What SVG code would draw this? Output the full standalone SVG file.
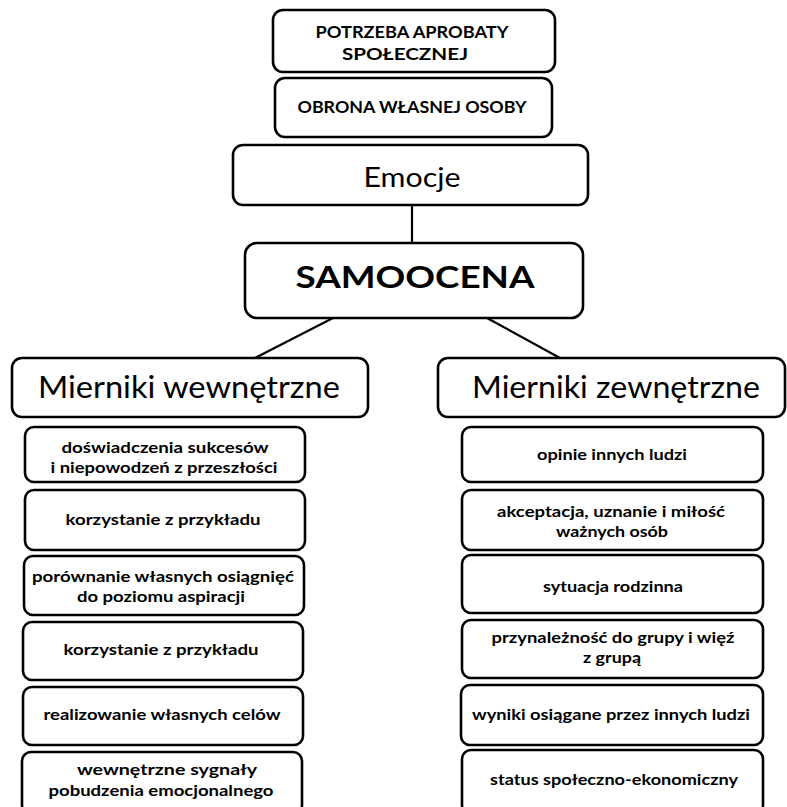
<svg xmlns="http://www.w3.org/2000/svg" width="787" height="807" viewBox="0 0 787 807">
<style>
.box{fill:#fff;stroke:#000;stroke-width:2.6}
.t{font-family:Lato,"Open Sans","Liberation Sans",sans-serif;fill:#000;text-anchor:middle}
.cap{font-size:17px;font-weight:bold}
.sm{font-size:16px;font-weight:bold}
.sm2{font-size:15px;font-weight:bold}
.big{font-size:30px}
.conn{stroke:#000;stroke-width:2.2;fill:none}
</style>
<rect width="787" height="807" fill="#fff"/>
<g id="connectors">
<line class="conn" x1="412" y1="205" x2="412" y2="243"/>
<line class="conn" x1="333" y1="318" x2="255" y2="358"/>
<line class="conn" x1="487" y1="318" x2="560" y2="358"/>
</g>
<g id="potrzeba">
<rect class="box" x="273" y="10" width="282" height="62" rx="10"/>
<text class="t cap" x="412" y="38" textLength="193" lengthAdjust="spacingAndGlyphs">POTRZEBA APROBATY</text>
<text class="t cap" x="405" y="60" textLength="126" lengthAdjust="spacingAndGlyphs">SPOŁECZNEJ</text>
</g>
<g id="obrona">
<rect class="box" x="275" y="78" width="277" height="59" rx="10"/>
<text class="t cap" x="412" y="113" textLength="229" lengthAdjust="spacingAndGlyphs">OBRONA WŁASNEJ OSOBY</text>
</g>
<g id="emocje">
<rect class="box" x="233" y="145" width="355" height="60" rx="10"/>
<text class="t" x="412" y="187" font-size="26" textLength="97" lengthAdjust="spacingAndGlyphs">Emocje</text>
</g>
<g id="samoocena">
<rect class="box" x="245" y="243" width="338" height="75" rx="12"/>
<text class="t" x="415" y="288" font-size="30" font-weight="bold" textLength="239" lengthAdjust="spacingAndGlyphs">SAMOOCENA</text>
</g>
<g id="mierniki-wewnetrzne">
<rect class="box" x="12" y="358" width="356" height="59" rx="10"/>
<text class="t big" x="189" y="398" textLength="302" lengthAdjust="spacingAndGlyphs">Mierniki wewnętrzne</text>
</g>
<g id="mierniki-zewnetrzne">
<rect class="box" x="438" y="358" width="347" height="59" rx="10"/>
<text class="t big" x="616" y="398" textLength="288" lengthAdjust="spacingAndGlyphs">Mierniki zewnętrzne</text>
</g>
<g id="w1">
<rect class="box" x="25" y="427" width="280" height="55" rx="9"/>
<text class="t sm2" x="165" y="453" textLength="207" lengthAdjust="spacingAndGlyphs">doświadczenia sukcesów</text>
<text class="t sm2" x="164" y="473" textLength="227" lengthAdjust="spacingAndGlyphs">i niepowodzeń z przeszłości</text>
</g>
<g id="w2">
<rect class="box" x="25" y="490" width="280" height="60" rx="9"/>
<text class="t sm" x="163" y="525" textLength="195" lengthAdjust="spacingAndGlyphs">korzystanie z  przykładu</text>
</g>
<g id="w3">
<rect class="box" x="24" y="556" width="280" height="59" rx="9"/>
<text class="t sm" x="163" y="582" textLength="262" lengthAdjust="spacingAndGlyphs">porównanie  własnych osiągnięć</text>
<text class="t sm" x="161" y="602" textLength="168" lengthAdjust="spacingAndGlyphs">do poziomu aspiracji</text>
</g>
<g id="w4">
<rect class="box" x="23" y="622" width="280" height="58" rx="9"/>
<text class="t sm" x="161" y="655" textLength="195" lengthAdjust="spacingAndGlyphs">korzystanie z  przykładu</text>
</g>
<g id="w5">
<rect class="box" x="23" y="687" width="280" height="58" rx="9"/>
<text class="t sm" x="162" y="720" textLength="237" lengthAdjust="spacingAndGlyphs">realizowanie własnych celów</text>
</g>
<g id="w6">
<rect class="box" x="22" y="752" width="280" height="62" rx="9"/>
<text class="t sm" x="167" y="775" textLength="180" lengthAdjust="spacingAndGlyphs">wewnętrzne sygnały</text>
<text class="t sm" x="161" y="796" textLength="225" lengthAdjust="spacingAndGlyphs">pobudzenia  emocjonalnego</text>
</g>
<g id="z1">
<rect class="box" x="462" y="427" width="301" height="55" rx="9"/>
<text class="t sm" x="612" y="460" textLength="150" lengthAdjust="spacingAndGlyphs">opinie innych ludzi</text>
</g>
<g id="z2">
<rect class="box" x="462" y="490" width="301" height="60" rx="9"/>
<text class="t sm" x="611" y="517" textLength="228" lengthAdjust="spacingAndGlyphs">akceptacja, uznanie  i miłość</text>
<text class="t sm" x="612" y="537" textLength="112" lengthAdjust="spacingAndGlyphs">ważnych osób</text>
</g>
<g id="z3">
<rect class="box" x="462" y="555" width="301" height="58" rx="9"/>
<text class="t sm" x="613" y="592" textLength="140" lengthAdjust="spacingAndGlyphs">sytuacja rodzinna</text>
</g>
<g id="z4">
<rect class="box" x="462" y="620" width="301" height="58" rx="9"/>
<text class="t sm" x="613" y="643" textLength="243" lengthAdjust="spacingAndGlyphs">przynależność do  grupy i więź</text>
<text class="t sm" x="612" y="663" textLength="58" lengthAdjust="spacingAndGlyphs">z grupą</text>
</g>
<g id="z5">
<rect class="box" x="461" y="685" width="302" height="60" rx="9"/>
<text class="t sm" x="611" y="720" textLength="278" lengthAdjust="spacingAndGlyphs">wyniki osiągane przez innych ludzi</text>
</g>
<g id="z6">
<rect class="box" x="462" y="750" width="301" height="64" rx="9"/>
<text class="t sm" x="614" y="785" textLength="248" lengthAdjust="spacingAndGlyphs">status społeczno-ekonomiczny</text>
</g>
</svg>
